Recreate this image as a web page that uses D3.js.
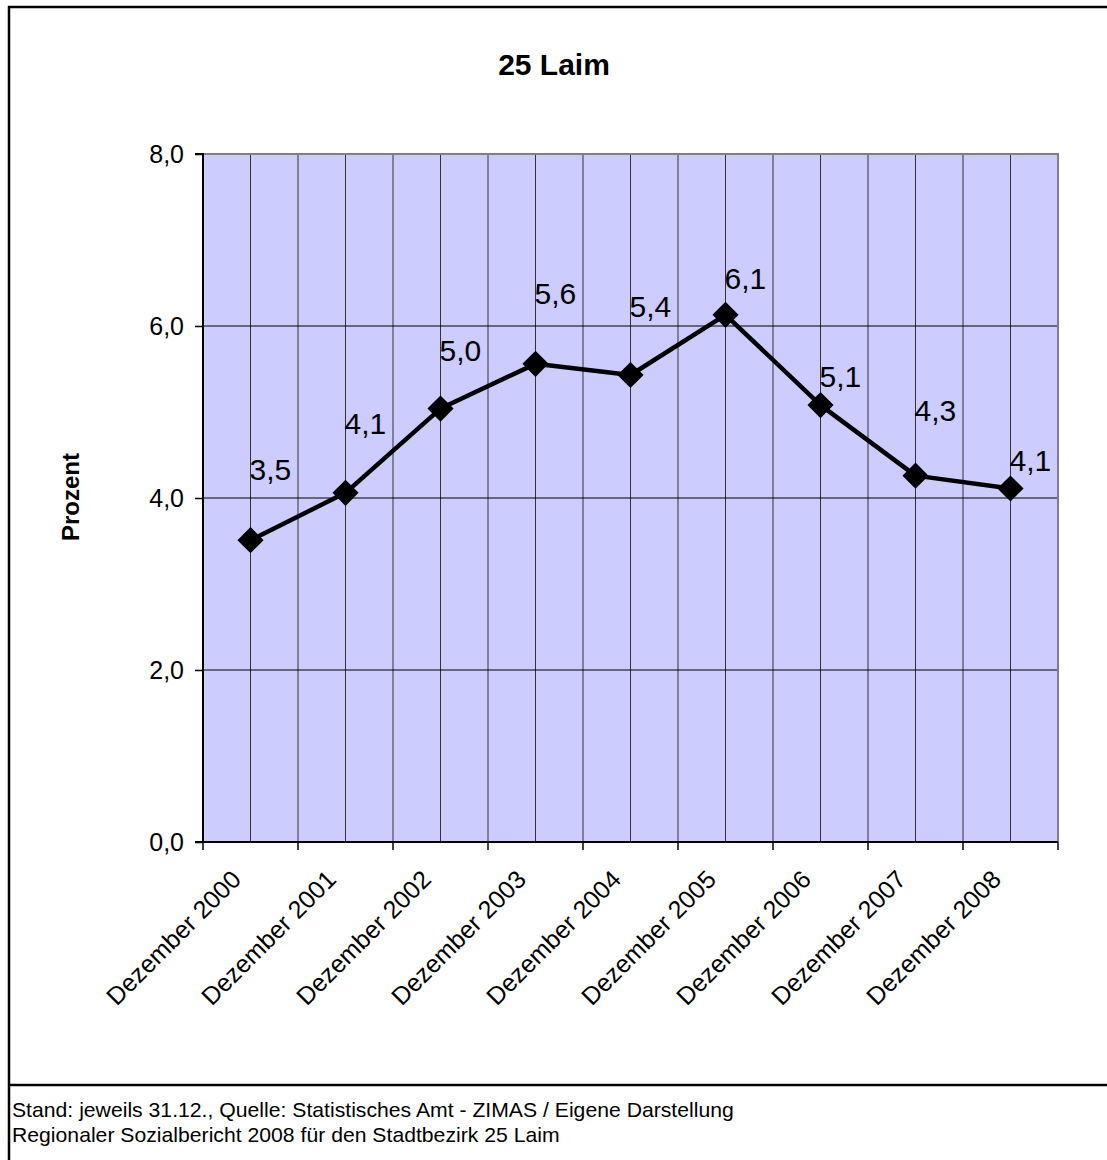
<!DOCTYPE html>
<html><head><meta charset="utf-8">
<script src="https://cdn.jsdelivr.net/npm/d3@7"></script>
<style>body{margin:0;background:#fff}svg{display:block;font-family:"Liberation Sans",Arial,sans-serif}</style>
</head><body><svg id="c" width="1107" height="1160"></svg>
<script>
const categories = ["Dezember 2000","Dezember 2001","Dezember 2002","Dezember 2003","Dezember 2004","Dezember 2005","Dezember 2006","Dezember 2007","Dezember 2008"];
const values = [3.51, 4.06, 5.04, 5.56, 5.43, 6.13, 5.08, 4.26, 4.11];
const yTicks = [0, 2, 4, 6, 8];
const title = "25 Laim";
const yTitle = "Prozent";
const footer = ["Stand: jeweils 31.12., Quelle: Statistisches Amt - ZIMAS / Eigene Darstellung","Regionaler Sozialbericht 2008 für den Stadtbezirk 25 Laim"];
// layout: vertical lift of each data label above its point (px)
const labelLift = [60, 59, 48, 60, 58, 26, 18, 55, 18];

const fmt = v => d3.format(".1f")(v).replace(".", ",");
const svg = d3.select("#c");
const L = 203, R = 1058, T = 154, B = 842;

// outer frame
svg.append("rect").attr("x",9).attr("y",7).attr("width",1107).attr("height",1170)
  .attr("fill","none").attr("stroke","#000").attr("stroke-width",2.5);
svg.append("line").attr("x1",9).attr("x2",1107).attr("y1",1085).attr("y2",1085)
  .attr("stroke","#000").attr("stroke-width",2.5);

const x = d3.scaleBand().domain(categories).range([L, R]).padding(0);
const y = d3.scaleLinear().domain([0, 8]).range([B, T]);
const cx = d => x(d) + x.bandwidth()/2;

svg.append("rect").attr("x",L).attr("y",T).attr("width",R-L).attr("height",B-T).attr("fill","#CCCCFF");

// vertical gridlines: boundaries and centers
const vlines = [];
categories.forEach(c => { vlines.push(x(c)); vlines.push(cx(c)); });
svg.append("g").selectAll("line").data(vlines.slice(1)).join("line")
  .attr("x1",d=>d).attr("x2",d=>d).attr("y1",T).attr("y2",B)
  .attr("stroke","#333").attr("stroke-width",1);
// horizontal gridlines
svg.append("g").selectAll("line").data(yTicks.filter(t=>t>0 && t<8)).join("line")
  .attr("x1",L).attr("x2",R).attr("y1",d=>y(d)).attr("y2",d=>y(d))
  .attr("stroke","#000").attr("stroke-width",1);
// top and right border gray
svg.append("path").attr("d",`M${L},${T}H${R}V${B}`).attr("fill","none").attr("stroke","#808080").attr("stroke-width",2);

// y axis
const yAxis = d3.axisLeft(y).tickValues(yTicks).tickSize(8).tickPadding(11).tickFormat(fmt);
const gy = svg.append("g").attr("transform",`translate(${L},0)`).call(yAxis);
gy.select(".domain").attr("stroke","#000").attr("stroke-width",2).attr("d",`M-8,${T}H0V${B}H-8`);
gy.selectAll(".tick line").attr("stroke","#000").attr("stroke-width",1.5);
gy.selectAll(".tick text").attr("font-size",25).attr("fill","#000").attr("font-family","Liberation Sans, Arial, sans-serif");

// x axis
const bounds = categories.map(c=>x(c)).concat([R]);
svg.append("line").attr("x1",L).attr("x2",R).attr("y1",B).attr("y2",B).attr("stroke","#000").attr("stroke-width",2);
svg.append("g").selectAll("line").data(bounds).join("line")
  .attr("x1",d=>d).attr("x2",d=>d).attr("y1",B).attr("y2",B+8).attr("stroke","#000").attr("stroke-width",1.5);
svg.append("g").selectAll("text").data(categories).join("text")
  .attr("transform",d=>`translate(${cx(d)-8},${B+39}) rotate(-45)`)
  .attr("text-anchor","end").attr("font-size",25).attr("fill","#000").text(d=>d);

// line
const line = d3.line().x((d,i)=>cx(categories[i])).y(d=>y(d));
svg.append("path").datum(values).attr("d",line).attr("fill","none").attr("stroke","#000").attr("stroke-width",4.5).attr("stroke-linejoin","round");
svg.append("g").selectAll("path").data(values).join("path")
  .attr("transform",(d,i)=>`translate(${cx(categories[i])},${y(d)}) rotate(45)`)
  .attr("d",d3.symbol().type(d3.symbolSquare).size(18.5*18.5)).attr("fill","#000");

// data labels
svg.append("g").selectAll("text").data(values).join("text")
  .attr("x",(d,i)=>cx(categories[i])-1).attr("y",(d,i)=>y(d)-labelLift[i])
  .attr("font-size",30).attr("fill","#000").text(d=>fmt(d));

// titles
svg.append("text").attr("x",554).attr("y",75).attr("text-anchor","middle").attr("font-size",30).attr("font-weight","bold").text(title);
svg.append("text").attr("transform","translate(79,497) rotate(-90)").attr("text-anchor","middle").attr("font-size",24).attr("font-weight","bold").text(yTitle);

// footer
svg.append("g").selectAll("text").data(footer).join("text")
  .attr("x",12).attr("y",(d,i)=>1117+i*25).attr("font-size",20).attr("fill","#000")
  .attr("transform","translate(12,0) scale(1.06,1) translate(-12,0)").text(d=>d);
</script></body></html>
